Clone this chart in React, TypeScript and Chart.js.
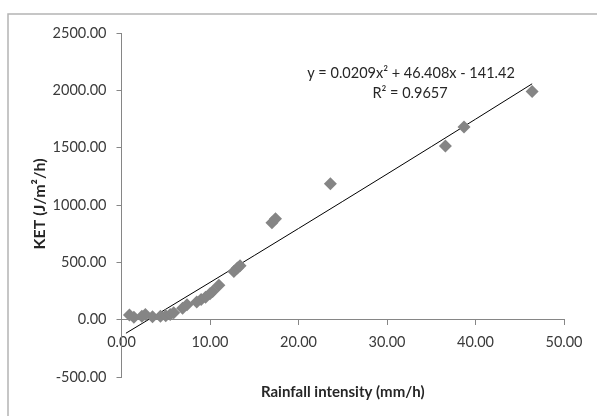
import React, { useEffect, useRef } from "react";
import { Chart, registerables } from "chart.js";

Chart.register(...registerables);

// Observed data: rainfall intensity (mm/h) vs KET (J/m²/h)
const rainfallIntensity = [0.9, 1.4, 2.3, 2.7, 3.5, 4.4, 5.0, 5.5, 5.9, 6.9, 7.4, 8.5, 9.0, 9.5, 10.0, 10.3, 11.0, 12.7, 13.1, 13.4, 17.0, 17.4, 23.6, 36.6, 38.7, 46.4];
const ketValues = [40, 20, 30, 45, 25, 30, 35, 45, 60, 100, 130, 155, 175, 195, 225, 245, 300, 420, 450, 470, 845, 880, 1185, 1515, 1680, 1990];

// Polynomial trendline coefficients as printed on the chart
const trendCoeffs = [0.0209, 46.408, -141.42];
const trendX = [0.5, 5, 10, 15, 20, 25, 30, 35, 40, 46.4];

const xTicks = [0, 10, 20, 30, 40, 50];
const yTicks = [-500, 0, 500, 1000, 1500, 2000, 2500];

const equationText = "y = 0.0209x² + 46.408x - 141.42";
const r2Text = "R² = 0.9657";
const xTitle = "Rainfall intensity (mm/h)";
const yTitle = "KET (J/m²/h)";

const FONT = "Lato, 'Open Sans', sans-serif";

export default function App() {
  const ref = useRef<HTMLCanvasElement | null>(null);

  useEffect(() => {
    if (!ref.current) return;
    const points = rainfallIntensity.map((x, i) => ({ x, y: ketValues[i] }));
    const trend = trendX.map((x) => ({
      x,
      y: trendCoeffs[0] * x * x + trendCoeffs[1] * x + trendCoeffs[2],
    }));

    const decor = {
      id: "decor",
      beforeDraw(chart: any) {
        const { ctx } = chart;
        ctx.save();
        ctx.fillStyle = "#ffffff";
        ctx.fillRect(0, 0, chart.width, chart.height);
        ctx.strokeStyle = "#b4b4b4";
        ctx.lineWidth = 1.5;
        ctx.beginPath();
        ctx.moveTo(8, chart.height + 5);
        ctx.lineTo(8, 14);
        ctx.lineTo(chart.width + 5, 14);
        ctx.stroke();
        ctx.restore();
      },
      afterDraw(chart: any) {
        const { ctx, chartArea } = chart;
        ctx.save();
        ctx.fillStyle = "#262626";
        ctx.textAlign = "center";
        ctx.textBaseline = "middle";
        ctx.font = `14.5px ${FONT}`;
        ctx.fillText(equationText, 411, 73);
        ctx.fillText(r2Text, 410, 93);
        ctx.font = `bold 15px ${FONT}`;
        ctx.fillText(xTitle, (chartArea.left + chartArea.right) / 2, 392);
        ctx.font = `bold 16px ${FONT}`;
        ctx.translate(40, 204);
        ctx.rotate(-Math.PI / 2);
        ctx.fillText(yTitle, 0, 0);
        ctx.restore();
      },
    };

    const chart = new Chart(ref.current, {
      type: "scatter",
      data: {
        datasets: [
          {
            label: "KET",
            data: points,
            pointStyle: "rectRot",
            pointRadius: 6.5,
            backgroundColor: "#858585",
            borderColor: "#858585",
            borderWidth: 0,
            showLine: false,
          },
          {
            label: "Trend",
            data: trend,
            showLine: true,
            pointRadius: 0,
            borderColor: "#000000",
            borderWidth: 1,
            tension: 0,
            fill: false,
          },
        ],
      },
      options: {
        animation: false,
        responsive: false,
        maintainAspectRatio: false,
        layout: { padding: { left: 0, right: 33, top: 33, bottom: 39 } },
        plugins: {
          legend: { display: false },
          tooltip: { enabled: false },
          title: { display: false },
        },
        scales: {
          x: {
            type: "linear",
            position: { y: 0 } as any,
            min: 0,
            max: 50,
            afterFit: (s: any) => {
              s.height = 0;
            },
            afterBuildTicks: (s: any) => {
              s.ticks = xTicks.map((v) => ({ value: v }));
            },
            ticks: {
              padding: 9,
              color: "#3a3a3a",
              font: { family: FONT, size: 14.5 },
              callback: (v: any) => Number(v).toFixed(2),
              maxRotation: 0,
              autoSkip: false,
            },
            grid: {
              display: true,
              drawOnChartArea: false,
              drawTicks: true,
              tickLength: 5,
              color: "#868686",
            },
            border: { display: true, color: "#868686", width: 1 },
            title: { display: false },
          },
          y: {
            type: "linear",
            position: "left",
            min: -500,
            max: 2500,
            afterFit: (s: any) => {
              s.width = 121.5;
            },
            afterBuildTicks: (s: any) => {
              s.ticks = yTicks.map((v) => ({ value: v }));
            },
            ticks: {
              padding: 10,
              color: "#3a3a3a",
              font: { family: FONT, size: 14.5 },
              callback: (v: any) => Number(v).toFixed(2),
              autoSkip: false,
            },
            grid: {
              display: true,
              drawOnChartArea: false,
              drawTicks: true,
              tickLength: 5,
              color: "#868686",
            },
            border: { display: true, color: "#868686", width: 1 },
            title: { display: false },
          },
        },
      },
      plugins: [decor],
    });
    return () => chart.destroy();
  }, []);

  return (
    <div style={{ position: "absolute", left: 0, top: 0, width: 597, height: 416 }}>
      <canvas ref={ref} width={597} height={416} style={{ width: 597, height: 416, display: "block" }} />
    </div>
  );
}
